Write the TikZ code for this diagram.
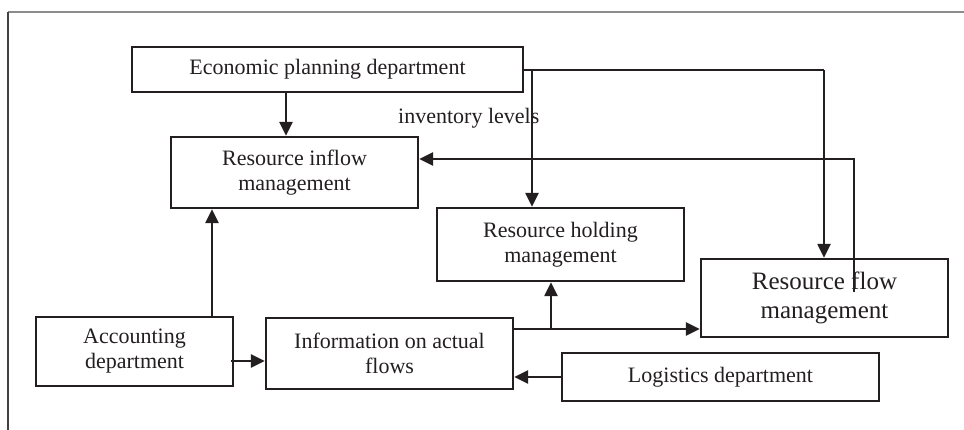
\documentclass[tikz,border=0pt]{standalone}
\usepackage{fontspec}
\setmainfont{Liberation Serif}
\usetikzlibrary{arrows.meta}
\definecolor{ink}{HTML}{231F20}
\definecolor{framegray}{HTML}{8C8C8C}
\tikzset{
  unitbox/.style={draw=ink, line width=2.3pt, fill=white, inner sep=0pt, align=center,
    text=ink, font=\fontsize{22}{25}\selectfont},
  link/.style={draw=ink, line width=2.3pt},
  arr/.style={link, -{Triangle[length=14pt,width=13pt]}},
}
\begin{document}
\begin{tikzpicture}[x=1pt,y=-1pt]
\useasboundingbox (0,0) rectangle (964,430);
% page frame
\draw[framegray, line width=2pt] (8,12) -- (964,12);
\draw[ink!85, line width=1.5pt] (8,12) -- (8,430);

% boxes
\node[unitbox, minimum width=391pt, minimum height=45pt] (econ) at (327.5,69.5) {Economic planning department};
\node[unitbox, minimum width=247pt, minimum height=71pt] (inflow) at (294.5,172.5) {Resource inflow\\management};
\node[unitbox, minimum width=247pt, minimum height=73pt] (hold) at (560.5,244.5) {Resource holding\\management};
\node[unitbox, minimum width=247pt, minimum height=78pt, font=\fontsize{25}{29}\selectfont] (flow) at (824.5,298) {Resource flow\\management};
\node[unitbox, minimum width=197pt, minimum height=69pt] (acc) at (134.5,351.5) {Accounting\\department};
\node[unitbox, minimum width=247pt, minimum height=71pt] (info) at (389.5,353.5) {Information on actual\\flows};
\node[unitbox, minimum width=317pt, minimum height=48pt] (logi) at (720.5,377) {Logistics department};

\node[anchor=west, inner sep=0pt, text=ink, font=\fontsize{22}{25}\selectfont] (inv) at (398,118) {inventory levels};

% junction points
\coordinate (econR) at (econ.east |- 0,70);
\coordinate (splitTop) at (532,70);
\coordinate (cornerTop) at (824,70);
\coordinate (fbBottom) at (854,292);
\coordinate (fbTop) at (854,159);
\coordinate (infoR) at (info.east |- 0,329);
\coordinate (splitBot) at (551,329);

% connectors
\draw[arr] (econ.south -| 286,0) -- (inflow.north -| 286,0);
\draw[link] (econR) -- (cornerTop);
\draw[arr] (cornerTop) -- (flow.north -| cornerTop);
\draw[arr] (splitTop) -- (hold.north -| splitTop);
\draw[arr] (fbBottom) -- (fbTop) -- (inflow.east |- fbTop);
\draw[arr] (acc.north -| 212,0) -- (inflow.south -| 212,0);
\draw[arr] ([xshift=-3pt]acc.east |- 0,361) -- (info.west |- 0,361);
\draw[arr] (infoR) -- (flow.west |- infoR);
\draw[arr] (splitBot) -- (hold.south -| splitBot);
\draw[arr] (logi.west |- 0,377) -- (info.east |- 0,377);
\end{tikzpicture}
\end{document}
